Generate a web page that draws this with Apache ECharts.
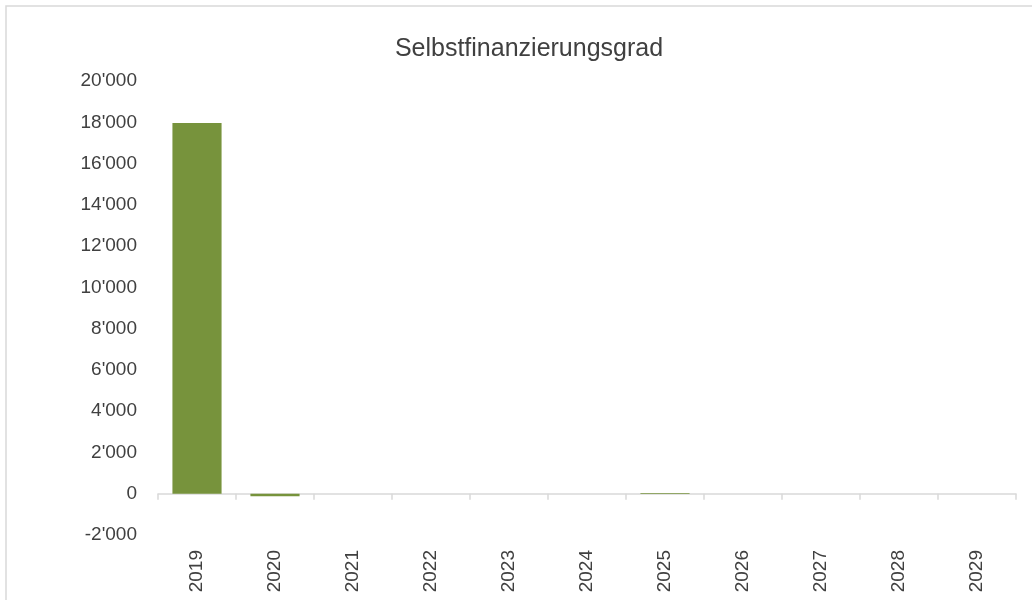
<!DOCTYPE html>
<html>
<head>
<meta charset="utf-8">
<script src="https://cdn.jsdelivr.net/npm/echarts@6/dist/echarts.min.js"></script>
<style>
  html, body { margin: 0; padding: 0; background: #fff; }
  #main { width: 1032px; height: 600px; }
</style>
</head>
<body>
<div id="main"></div>
<script>
// Selbstfinanzierungsgrad
var years = ['2019', '2020', '2021', '2022', '2023', '2024', '2025', '2026', '2027', '2028', '2029'];
var values = [17960, -120, 0, 0, 0, 0, 30, 0, 0, 0, 0];
var yTicks = [-2000, 0, 2000, 4000, 6000, 8000, 10000, 12000, 14000, 16000, 18000, 20000];

var font = '"Liberation Sans Narrow", "Arial Narrow", "Liberation Sans", Arial, sans-serif';

function fmt(v) {
  // Tausendertrennzeichen mit Apostroph
  var s = Math.abs(v).toString().replace(/\B(?=(\d{3})+(?!\d))/g, "'");
  return (v < 0 ? '-' : '') + s;
}

var chart = echarts.init(document.getElementById('main'));
var option = {
  backgroundColor: '#fff',
  animation: false,
  title: {
    text: 'Selbstfinanzierungsgrad',
    left: 524,
    top: 32,
    textAlign: 'center',
    textStyle: { fontFamily: font, fontSize: 25, fontWeight: 'normal', color: '#404040' }
  },
  graphic: [{
    type: 'rect',
    shape: { x: 6, y: 6, width: 1040, height: 610 },
    style: { fill: null, stroke: '#d9d9d9', lineWidth: 1.5 },
    silent: true
  }],
  grid: { left: 158, right: 16, top: 81, bottom: 65 },
  xAxis: [{
    type: 'category',
    data: years,
    axisLine: { onZero: true, lineStyle: { color: '#d9d9d9', width: 1.5 } },
    axisTick: { show: true, length: 6, alignWithLabel: false, lineStyle: { color: '#d9d9d9', width: 1.5 } },
    axisLabel: { show: false }
  }, {
    // Beschriftung unten (nicht an der Nulllinie)
    type: 'category',
    data: years,
    position: 'bottom',
    axisLine: { show: false, onZero: false },
    axisTick: { show: false },
    axisLabel: {
      rotate: 90,
      margin: 15,
      fontFamily: font,
      fontSize: 19,
      color: '#404040'
    }
  }],
  yAxis: {
    type: 'value',
    min: yTicks[0],
    max: yTicks[yTicks.length - 1],
    interval: 2000,
    axisLine: { show: false },
    axisTick: { show: false },
    splitLine: { show: false },
    axisLabel: {
      margin: 21,
      fontFamily: font,
      fontSize: 19,
      color: '#404040',
      formatter: fmt
    }
  },
  series: [{
    type: 'bar',
    data: values,
    barWidth: '63%',
    itemStyle: { color: '#77933c' }
  }]
};
chart.setOption(option);
</script>
</body>
</html>
